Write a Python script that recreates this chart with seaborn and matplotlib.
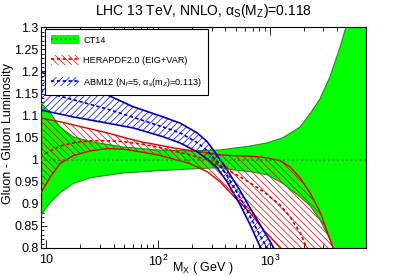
import numpy as np
import matplotlib
matplotlib.use("Agg")
import matplotlib.pyplot as plt
import seaborn as sns
from matplotlib.patches import Patch
from matplotlib.lines import Line2D
from matplotlib.ticker import (FixedLocator, FixedFormatter, MultipleLocator,
                               LogLocator, NullFormatter, FuncFormatter)

# CT14 band (ratio to CT14 central)
ct14_x = [8.8, 10.9, 13.3, 17.4, 24.7, 48.7, 98, 193, 358, 468, 663, 940,
          1306, 1852, 2275, 2795, 3435, 4220, 4773, 7200]
ct14_hi = [1.131, 1.106, 1.074, 1.052, 1.041, 1.029, 1.022, 1.020, 1.022, 1.026,
           1.031, 1.038, 1.050, 1.074, 1.104, 1.138, 1.188, 1.255, 1.301, 1.45]
ct14_lo = [0.871, 0.903, 0.925, 0.946, 0.959, 0.970, 0.975, 0.979, 0.982, 0.977,
           0.973, 0.966, 0.946, 0.916, 0.896, 0.864, 0.819, 0.755, 0.717, 0.615]
ct14_mid = [1.0] * len(ct14_x)

# HERAPDF2.0 (EIG+VAR)
hera_x = [8.8, 10.9, 13.3, 17.4, 24.7, 35, 48.7, 69, 98, 136, 193, 274, 358,
          487, 663, 902, 1228, 1508, 1852, 2275, 2795, 3652]
hera_hi = [1.095, 1.090, 1.086, 1.079, 1.070, 1.061, 1.051, 1.041, 1.034, 1.027,
           1.021, 1.016, 1.011, 1.009, 1.008, 1.005, 0.998, 0.984, 0.959, 0.925,
           0.882, 0.801]
hera_lo = [0.921, 0.961, 0.991, 1.009, 1.020, 1.025, 1.024, 1.018, 1.011, 1.002,
           0.991, 0.973, 0.950, 0.914, 0.880, 0.837, 0.801, 0.762, 0.717, 0.672,
           0.615, 0.547]
hera_mid = [1.007, 1.020, 1.031, 1.038, 1.043, 1.043, 1.041, 1.036, 1.029, 1.020,
            1.011, 1.000, 0.986, 0.968, 0.948, 0.925, 0.898, 0.871, 0.835, 0.785,
            0.740, 0.660]

# ABM12
abm_x = [8.8, 17.4, 35, 60, 111, 157, 223, 274, 336, 413, 540, 663, 814, 1064, 1361]
abm_hi = [1.199, 1.174, 1.147, 1.120, 1.097, 1.083, 1.061, 1.041, 1.011, 0.977,
          0.930, 0.891, 0.853, 0.803, 0.755]
abm_lo = [1.113, 1.097, 1.083, 1.072, 1.052, 1.038, 1.018, 1.002, 0.982, 0.950,
          0.898, 0.853, 0.803, 0.751, 0.706]
abm_mid = [1.156, 1.136, 1.115, 1.096, 1.074, 1.061, 1.039, 1.021, 0.996, 0.964,
           0.914, 0.872, 0.828, 0.777, 0.731]

LABELS = ["CT14", "HERAPDF2.0 (EIG+VAR)",
          r"ABM12 ($\mathrm{N_f}$=5, $\mathrm{\alpha_s(m_Z)}$=0.113)"]
X_TICKS = [10, 100, 1000]
X_TICK_LABELS = ["10", r"$\mathrm{10^2}$", r"$\mathrm{10^3}$"]

GREEN = "#00ff00"
DKGREEN = "#1e8c1e"
RED = "#e00000"
BLUE = "#0000ff"
DKBLUE = "#0000b0"
RED_HATCH = "\\" * 5
BLUE_HATCH = "/" * 5

sns.set_style("ticks", rc={"axes.edgecolor": "black", "text.color": "black",
                           "xtick.color": "black", "ytick.color": "black"})
plt.rcParams["font.family"] = ["Liberation Sans", "DejaVu Sans"]
plt.rcParams["mathtext.fontset"] = "custom"
plt.rcParams["mathtext.rm"] = "Liberation Sans"
plt.rcParams["mathtext.it"] = "Liberation Sans:italic"
plt.rcParams["hatch.linewidth"] = 0.5

fig = plt.figure(figsize=(4.07, 2.76), dpi=100)
ax = fig.add_axes([40.5 / 407, 28 / 276, 325.5 / 407, 220.7 / 276])
ax.set_xscale("log")

# bands
ax.fill_between(ct14_x, ct14_lo, ct14_hi, color=GREEN, lw=0, zorder=1)
ax.fill_between(hera_x, hera_lo, hera_hi, facecolor="none", edgecolor=RED,
                hatch=RED_HATCH, lw=0, zorder=2)
ax.fill_between(abm_x, abm_lo, abm_hi, facecolor="none", edgecolor=BLUE,
                hatch=BLUE_HATCH, lw=0, zorder=3)

# band edges
for y in (ct14_lo, ct14_hi):
    sns.lineplot(x=ct14_x, y=y, ax=ax, color=DKGREEN, lw=0.8, zorder=4)
for y in (hera_lo, hera_hi):
    sns.lineplot(x=hera_x, y=y, ax=ax, color=RED, lw=1.0, zorder=5)
for y in (abm_lo, abm_hi):
    sns.lineplot(x=abm_x, y=y, ax=ax, color=DKBLUE, lw=1.2, zorder=6)

# central values
sns.lineplot(x=ct14_x, y=ct14_mid, ax=ax, color=DKGREEN, lw=1.2,
             linestyle=(0, (1.2, 1.5)), zorder=7)
sns.lineplot(x=hera_x, y=hera_mid, ax=ax, color=RED, lw=1.2,
             linestyle=(0, (2, 1.5)), zorder=7)
sns.lineplot(x=abm_x, y=abm_mid, ax=ax, color=DKBLUE, lw=1.2,
             linestyle=(0, (2, 1.5)), zorder=7)

ax.set_xlim(8.9, 7200)
ax.set_ylim(0.8, 1.3)
ax.set_xlabel("")
ax.set_ylabel("")

ax.xaxis.set_major_locator(FixedLocator(X_TICKS))
ax.xaxis.set_major_formatter(FixedFormatter(X_TICK_LABELS))
ax.xaxis.set_minor_locator(LogLocator(base=10, subs=np.arange(2, 10)))
ax.xaxis.set_minor_formatter(NullFormatter())
ax.yaxis.set_major_locator(MultipleLocator(0.05))
ax.yaxis.set_minor_locator(MultipleLocator(0.01))
ax.yaxis.set_major_formatter(FuncFormatter(lambda v, _: f"{v:g}"))

ax.tick_params(which="both", direction="in", top=True, right=False, width=0.6)
ax.tick_params(axis="x", which="major", length=6, pad=4, labelsize=9)
ax.tick_params(axis="x", which="minor", length=3)
ax.tick_params(axis="y", which="major", length=4.5, pad=1.5, labelsize=9)
ax.tick_params(axis="y", which="minor", length=2.5)
for s in ax.spines.values():
    s.set_linewidth(0.8)

handles = [
    (Patch(facecolor=GREEN, edgecolor=GREEN, lw=0),
     Line2D([], [], color=DKGREEN, ls=(0, (1.2, 1.5)), lw=1.2)),
    (Patch(facecolor="white", edgecolor=RED, hatch=RED_HATCH, lw=0),
     Line2D([], [], color=RED, ls=(0, (2, 1.5)), lw=1.2)),
    (Patch(facecolor="white", edgecolor=BLUE, hatch=BLUE_HATCH, lw=0),
     Line2D([], [], color=DKBLUE, ls=(0, (2, 1.5)), lw=1.2)),
]
leg = ax.legend(handles, LABELS, loc="upper left", bbox_to_anchor=(0.014, 0.992),
                borderaxespad=0, fontsize=6.6, frameon=True, fancybox=False,
                edgecolor="black", framealpha=1, handlelength=3.0,
                handleheight=1.2, handletextpad=0.5, labelspacing=1.15,
                borderpad=0.65)
leg.get_frame().set_linewidth(0.8)
leg.set_zorder(10)

fig.text(0.4988, 1 - 10.5 / 276, r"LHC 13 TeV, NNLO, $\mathrm{\alpha_S(M_Z)}$=0.118",
         ha="center", va="center", fontsize=10)
fig.text(8.5 / 407, 1 - 134 / 276, "Gluon - Gluon Luminosity", rotation=90,
         ha="center", va="center", fontsize=9)
fig.text(203 / 407, 1 - 268.5 / 276, r"$\mathrm{M_X}$ ( GeV )",
         ha="center", va="center", fontsize=9)

fig.savefig("out.png", dpi=100)
